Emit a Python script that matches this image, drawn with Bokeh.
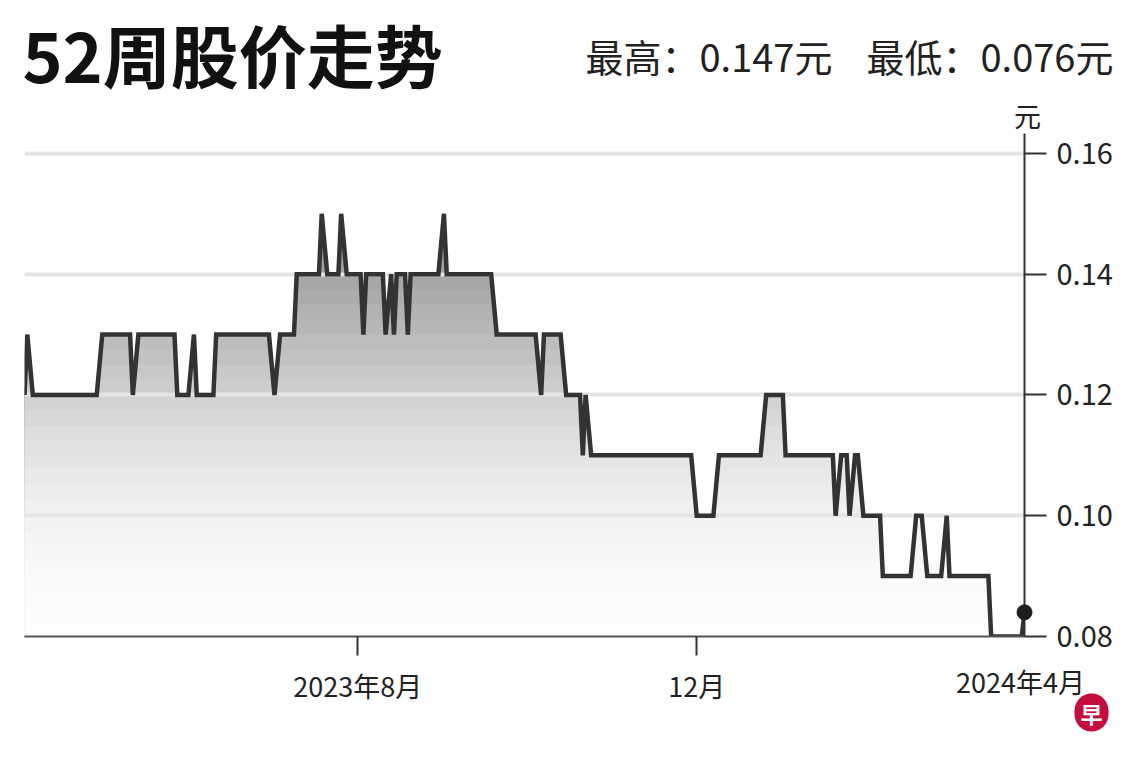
import numpy as np
import pandas as pd
from bokeh.plotting import figure
from bokeh.models import Range1d, FixedTicker, PrintfTickFormatter
from bokeh.core.properties import value
from bokeh.embed import file_html
from bokeh.resources import INLINE

# ---- data ----
dates = [
    "2023-04-03", "2023-04-04", "2023-04-06", "2023-04-29", "2023-05-01",
    "2023-05-11", "2023-05-12", "2023-05-14", "2023-05-27", "2023-05-28",
    "2023-06-01", "2023-06-03", "2023-06-04", "2023-06-10", "2023-06-11",
    "2023-06-30", "2023-07-02", "2023-07-04", "2023-07-09", "2023-07-10",
    "2023-07-18", "2023-07-19", "2023-07-21", "2023-07-25", "2023-07-26",
    "2023-07-28", "2023-08-02", "2023-08-03", "2023-08-04", "2023-08-10",
    "2023-08-11", "2023-08-13", "2023-08-14", "2023-08-15", "2023-08-18",
    "2023-08-19", "2023-08-20", "2023-08-30", "2023-09-01", "2023-09-02",
    "2023-09-18", "2023-09-20", "2023-10-04", "2023-10-06", "2023-10-07",
    "2023-10-13", "2023-10-15", "2023-10-20", "2023-10-21", "2023-10-22",
    "2023-10-24", "2023-11-29", "2023-12-01", "2023-12-07", "2023-12-09",
    "2023-12-24", "2023-12-26", "2024-01-01", "2024-01-02", "2024-01-19",
    "2024-01-20", "2024-01-22", "2024-01-24", "2024-01-25", "2024-01-27",
    "2024-01-28", "2024-01-30", "2024-02-05", "2024-02-06", "2024-02-16",
    "2024-02-18", "2024-02-20", "2024-02-22", "2024-02-27", "2024-02-29",
    "2024-03-01", "2024-03-15", "2024-03-16", "2024-03-27", "2024-03-28",
]
prices = [
    0.12, 0.13, 0.12, 0.12, 0.13,
    0.13, 0.12, 0.13, 0.13, 0.12,
    0.12, 0.13, 0.12, 0.12, 0.13,
    0.13, 0.12, 0.13, 0.13, 0.14,
    0.14, 0.15, 0.14, 0.14, 0.15,
    0.14, 0.14, 0.13, 0.14, 0.14,
    0.13, 0.14, 0.13, 0.14, 0.14,
    0.13, 0.14, 0.14, 0.15, 0.14,
    0.14, 0.13, 0.13, 0.12, 0.13,
    0.13, 0.12, 0.12, 0.11, 0.12,
    0.11, 0.11, 0.10, 0.10, 0.11,
    0.11, 0.12, 0.12, 0.11, 0.11,
    0.10, 0.11, 0.11, 0.10, 0.11,
    0.11, 0.10, 0.10, 0.09, 0.09,
    0.10, 0.10, 0.09, 0.09, 0.10,
    0.09, 0.09, 0.08, 0.08, 0.084,
]
y_ticks = [0.08, 0.10, 0.12, 0.14, 0.16]
x_tick_dates = ["2023-08-01", "2023-12-01"]
x_tick_labels = ["2023年8月", "12月"]
end_label = "2024年4月"
title_text = "52周股价走势"
high_text = "最高：0.147元"
low_text = "最低：0.076元"
unit_text = "元"
logo_text = "早"

FONT = "Noto Sans CJK SC"

x = pd.to_datetime(dates)
y = np.array(prices)

# frame geometry (pixels in the page)
FL, FR, FT, FB = 24, 1024, 133, 636
W, H = 1132, 753
Y0, Y1 = 0.08, 0.1633
T0, T1 = pd.Timestamp(dates[0]), pd.Timestamp(dates[-1])

p = figure(
    width=W, height=H,
    x_axis_type="datetime", y_axis_location="right",
    x_range=Range1d(T0, T1),
    y_range=Range1d(Y0, Y1),
    output_backend="svg", toolbar_location=None,
    min_border_left=FL, min_border_right=W - FR,
    min_border_top=FT, min_border_bottom=H - FB,
)
p.outline_line_color = None
p.background_fill_color = "white"
p.border_fill_color = "white"


def xd(px):
    return T0 + (T1 - T0) * ((px - FL) / (FR - FL))


def yd(py):
    return Y0 + (FB - py) / (FB - FT) * (Y1 - Y0)


# gradient-like area fill with stacked bands
def gray(v):
    g = np.interp(v, [0.08, 0.09, 0.10, 0.11, 0.12, 0.13, 0.14, 0.15],
                  [253, 250, 242, 228, 208, 186, 164, 142])
    g = int(round(g))
    return "#%02x%02x%02x" % (g, g, g)


levels = np.arange(0.1500, 0.0810, -0.0025)
for L in levels:
    r = p.varea(x=x, y1=Y0, y2=np.minimum(y, L), fill_color=gray(L - 0.00125))
    r.level = "image"

# grid
p.xgrid.visible = False
p.ygrid.ticker = FixedTicker(ticks=y_ticks)
p.ygrid.grid_line_color = "#e4e4e4"
p.ygrid.grid_line_width = 4
p.ygrid.level = "underlay"

# line and last dot
p.line(x=x, y=y, line_color="#333333", line_width=4.5, line_join="miter")
dot = p.scatter(x=x[-1:], y=y[-1:], size=15, fill_color="#1e1e1e", line_color="#1e1e1e")
dot.level = "overlay"

# y axis (right)
ya = p.yaxis[0]
ya.ticker = FixedTicker(ticks=y_ticks)
ya.formatter = PrintfTickFormatter(format="%.2f")
ya.axis_line_color = "#333333"
ya.axis_line_width = 2
ya.major_tick_line_color = "#333333"
ya.major_tick_line_width = 2
ya.major_tick_in = 0
ya.major_tick_out = 22
ya.minor_tick_line_color = None
ya.major_label_standoff = 10
ya.major_label_text_font = FONT
ya.major_label_text_font_size = "29px"
ya.major_label_text_color = "#222222"

# x axis
xa = p.xaxis[0]
tick_ms = [pd.Timestamp(d).value / 1e6 for d in x_tick_dates]
xa.ticker = FixedTicker(ticks=tick_ms)
xa.major_label_overrides = {t: lab for t, lab in zip(tick_ms, x_tick_labels)}
xa.axis_line_color = "#555555"
xa.axis_line_width = 2
xa.major_tick_line_color = "#333333"
xa.major_tick_line_width = 2
xa.major_tick_in = 0
xa.major_tick_out = 19
xa.minor_tick_line_color = None
xa.major_label_standoff = 10
xa.major_label_text_font = FONT
xa.major_label_text_font_size = "27px"
xa.major_label_text_color = "#222222"


# texts as overlay text glyphs (anchored inside the x range, shifted in pixels)
def add_text(px, py, text, size, align="left", baseline="alphabetic",
             color="#222222", style="normal", **extra):
    ax = min(max(px, FL), FR)
    r = p.text(x=[xd(ax)], y=[yd(py)], text=[text], x_offset=px - ax,
               text_font=value(FONT), text_font_size=size, text_font_style=style,
               text_color=color, text_align=align, text_baseline=baseline, **extra)
    r.level = "overlay"
    return r


add_text(22, 53, title_text, "68px", style="bold", color="#111111")
add_text(585, 55, high_text, "38px")
add_text(866, 55, low_text, "38px")
add_text(1027, 115, unit_text, "27px", align="center", baseline="middle")
add_text(1020, 661, end_label, "27px", align="center", baseline="top")
add_text(1091, 712, logo_text, "22px", align="center", baseline="middle",
         color="white", style="bold",
         background_fill_color="#c40d3c", padding=dict(x=6, y=3), border_radius=17)

open("out.html", "w").write(file_html(p, INLINE))
